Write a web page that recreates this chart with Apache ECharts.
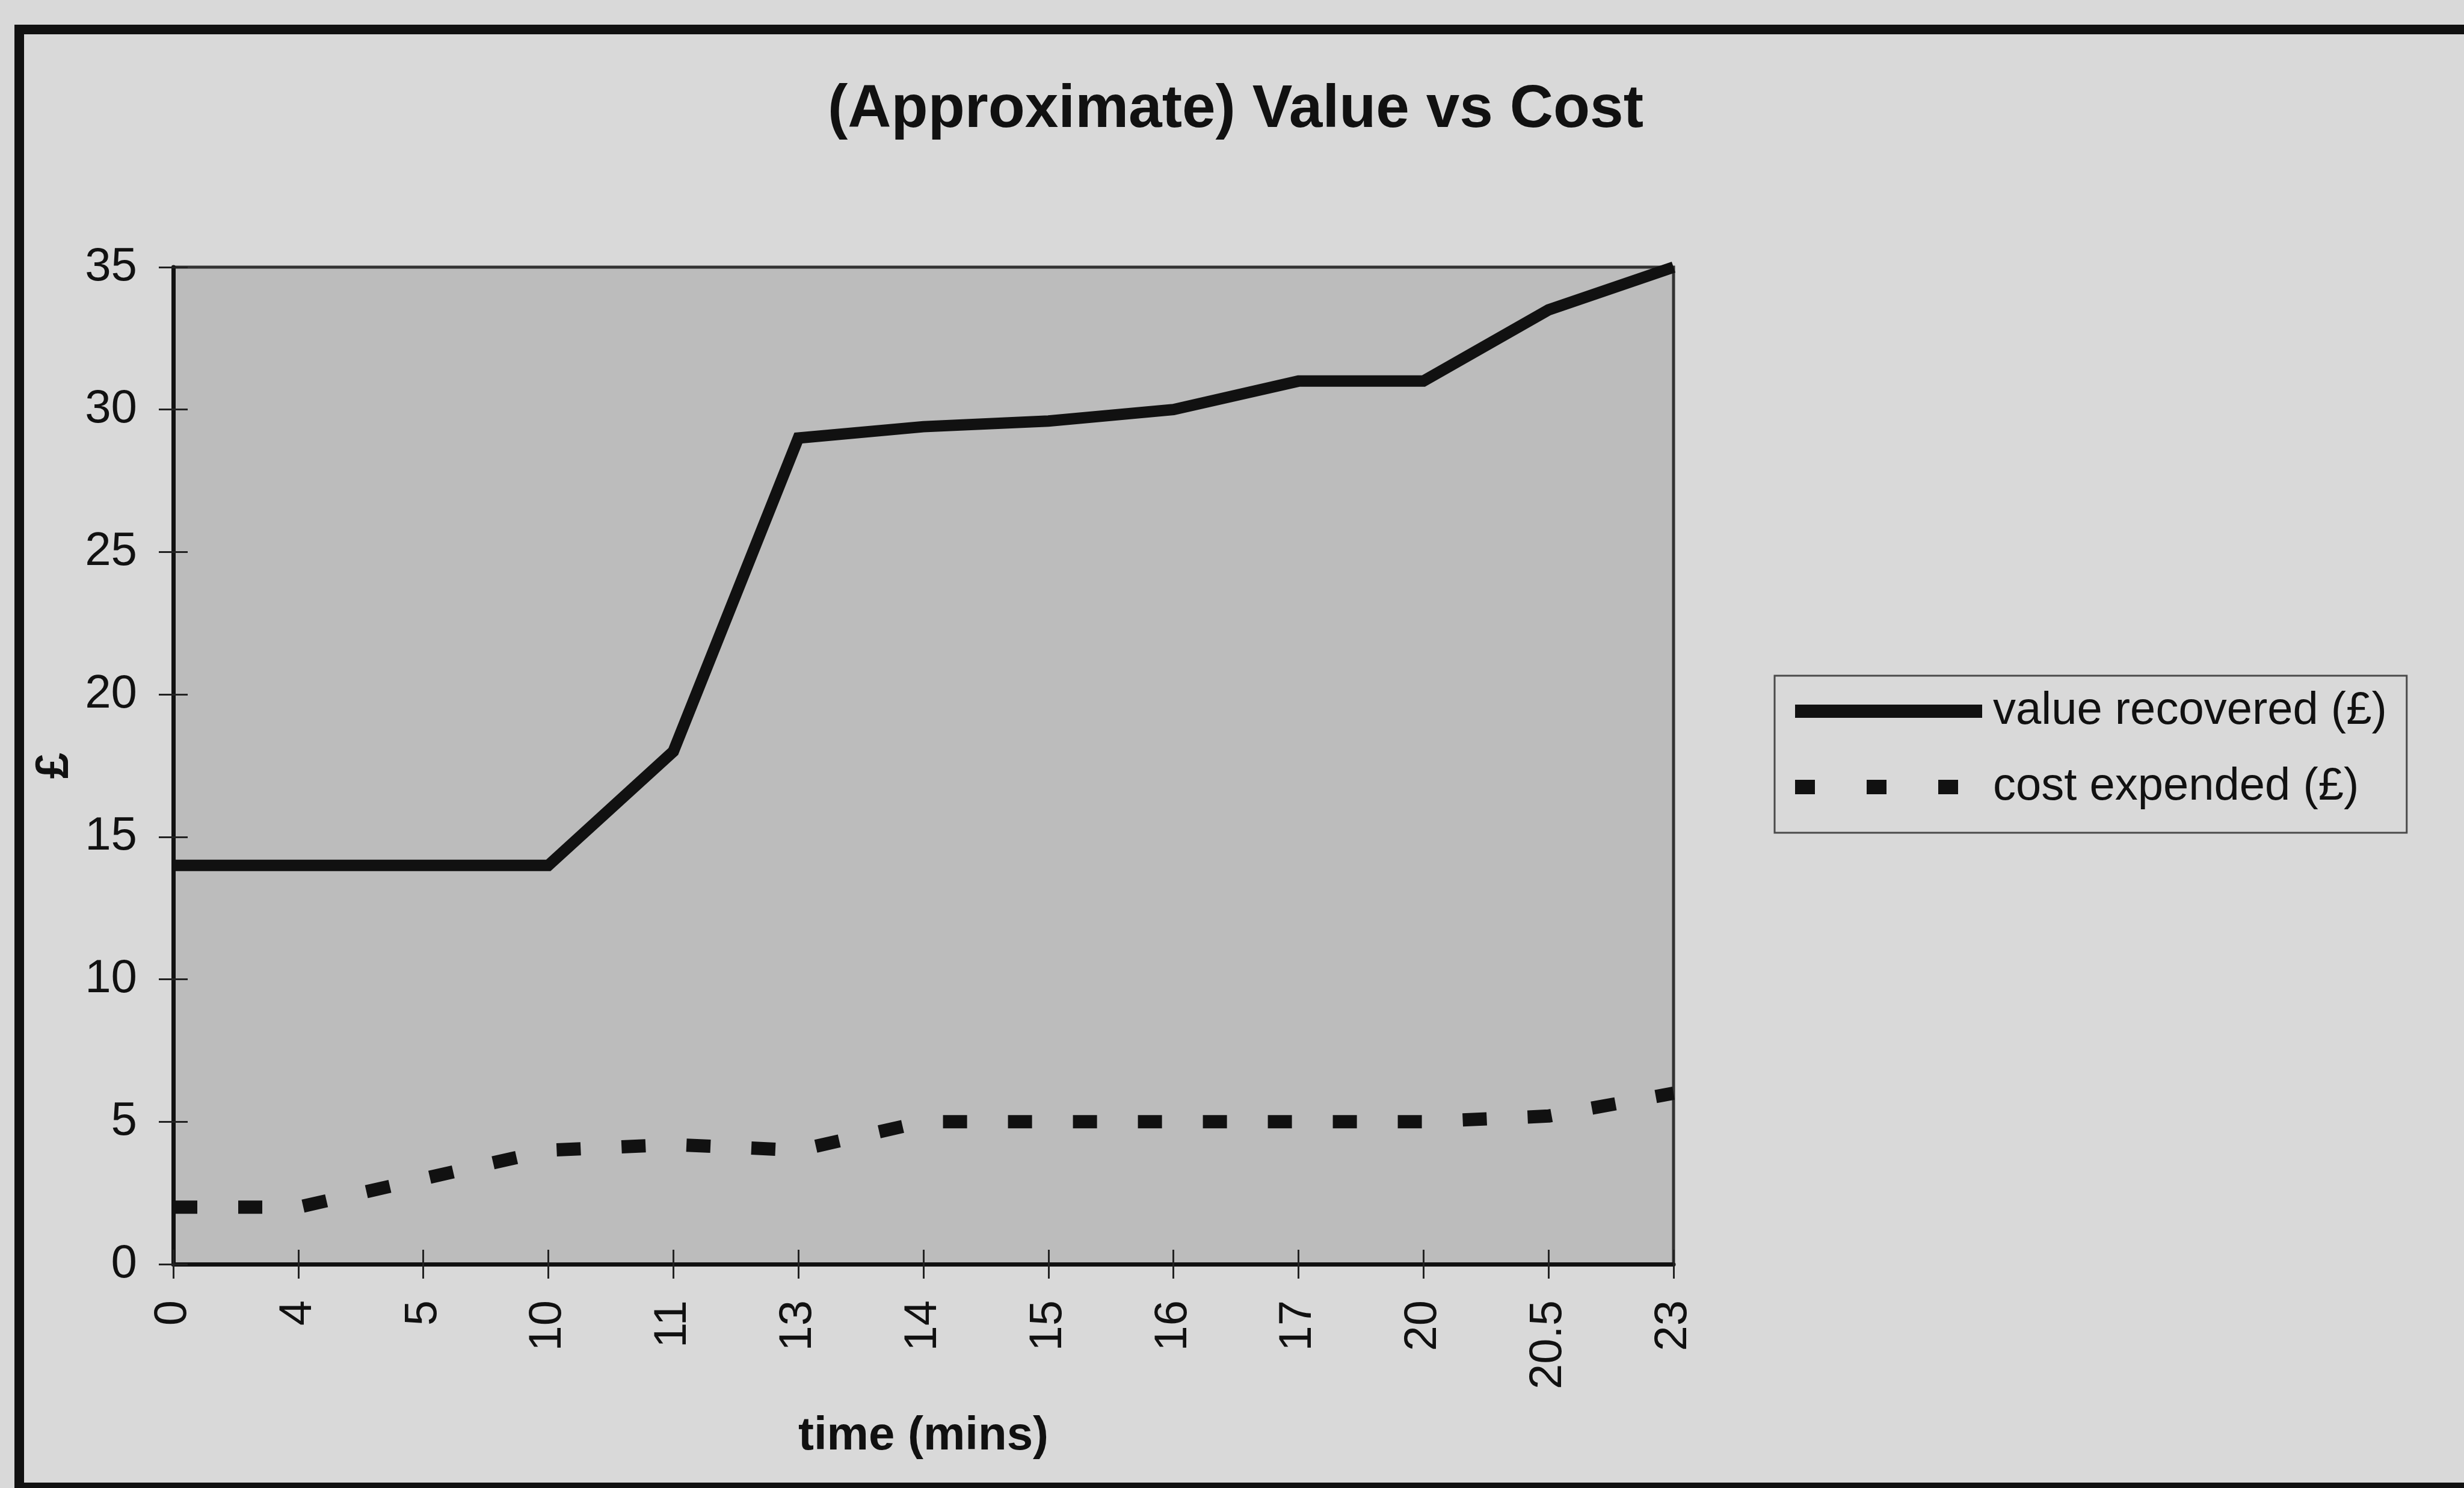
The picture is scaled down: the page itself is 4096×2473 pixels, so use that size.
<!DOCTYPE html>
<html><head><meta charset="utf-8">
<script src="https://cdn.jsdelivr.net/npm/echarts@6/dist/echarts.min.js"></script>
<style>html,body{margin:0;padding:0;background:#d9d9d9}#c{width:4096px;height:2473px}</style>
</head><body><div id="c"></div>
<script>
const categories = ['0','4','5','10','11','13','14','15','16','17','20','20.5','23'];
const valueRecovered = [14,14,14,14,18,29,29.4,29.6,30,31,31,33.5,35];
const costExpended = [2,2,3,4,4.2,4,5,5,5,5,5,5.2,6];
const seriesNames = ['value recovered (£)', 'cost expended (£)'];
const yMin = 0, yMax = 35, yInterval = 5;

const FONT = '"Liberation Sans", Arial, Helvetica, sans-serif';
const chart = echarts.init(document.getElementById('c'), null, {renderer: 'canvas'});

const xBase = {type: 'category', data: categories, boundaryGap: false, gridIndex: 0, position: 'bottom'};
const yBase = {type: 'value', min: yMin, max: yMax, interval: yInterval, gridIndex: 0, position: 'left'};

chart.setOption({
  animation: false,
  backgroundColor: '#d9d9d9',
  title: {
    text: '(Approximate) Value vs Cost',
    left: 2054, top: 133, textAlign: 'center', padding: 0,
    textStyle: {fontFamily: FONT, fontSize: 100, fontWeight: 'bold', color: '#111'}
  },
  graphic: [{
    type: 'rect', silent: true, z: 100,
    shape: {x: 32, y: 49, width: 4200, height: 2423},
    style: {fill: 'none', stroke: '#111', lineWidth: 16}
  }],
  grid: {
    left: 288, top: 444, width: 2494, height: 1657,
    show: true, backgroundColor: '#bcbcbc', borderColor: '#333333', borderWidth: 5
  },
  legend: {
    orient: 'vertical', left: 2950, top: 1123,
    padding: [21, 33, 38, 22],
    borderColor: '#4a4a4a', borderWidth: 3, backgroundColor: '#d9d9d9',
    itemWidth: 311, itemHeight: 60, itemGap: 50,
    itemStyle: {color: 'rgba(0,0,0,0)', opacity: 0, borderWidth: 0},
    textStyle: {fontFamily: FONT, fontSize: 76, color: '#111', padding: [0, 0, 0, 13]},
    data: [
      {name: seriesNames[0], lineStyle: {width: 22, color: '#111', cap: 'butt'}},
      {name: seriesNames[1], lineStyle: {width: 24, color: '#111', type: [33, 86], cap: 'butt'}}
    ]
  },
  xAxis: [
    Object.assign({}, xBase, {
      axisLine: {lineStyle: {color: '#111', width: 7}},
      axisTick: {show: true, interval: 0, length: 24, lineStyle: {color: '#222', width: 3}},
      axisLabel: {interval: 0, rotate: 90, margin: 60, fontFamily: FONT, fontSize: 76, color: '#111'},
      splitLine: {show: false},
      name: 'time (mins)', nameLocation: 'middle', nameGap: 286,
      nameTextStyle: {fontFamily: FONT, fontSize: 78, fontWeight: 'bold', color: '#111', verticalAlign: 'middle'}
    }),
    Object.assign({}, xBase, {
      axisLine: {show: false},
      axisTick: {show: true, inside: true, interval: 0, length: 24, lineStyle: {color: '#222', width: 3}},
      axisLabel: {show: false}, splitLine: {show: false}
    })
  ],
  yAxis: [
    Object.assign({}, yBase, {
      axisLine: {show: true, lineStyle: {color: '#111', width: 7}},
      axisTick: {show: true, length: 24, lineStyle: {color: '#222', width: 3}},
      axisLabel: {margin: 60, fontFamily: FONT, fontSize: 78, color: '#111'},
      splitLine: {show: false},
      name: '£', nameLocation: 'middle', nameGap: 192, nameRotate: 90,
      nameTextStyle: {fontFamily: FONT, fontSize: 78, fontWeight: 'bold', color: '#111', verticalAlign: 'middle', align: 'center'}
    }),
    Object.assign({}, yBase, {
      axisLine: {show: false},
      axisTick: {show: true, inside: true, length: 24, lineStyle: {color: '#222', width: 3}},
      axisLabel: {show: false}, splitLine: {show: false}
    })
  ],
  series: [
    {
      type: 'line', name: seriesNames[0], data: valueRecovered, xAxisIndex: 0, yAxisIndex: 0,
      symbol: 'none', clip: false, z: 4,
      itemStyle: {color: '#111'},
      lineStyle: {color: '#111', width: 19, join: 'miter', cap: 'butt'}
    },
    {
      type: 'line', name: seriesNames[1], data: costExpended, xAxisIndex: 0, yAxisIndex: 0,
      symbol: 'none', clip: false, z: 3,
      itemStyle: {color: '#111'},
      lineStyle: {color: '#111', width: 22, type: [40, 68], cap: 'butt'}
    }
  ]
});
</script></body></html>
